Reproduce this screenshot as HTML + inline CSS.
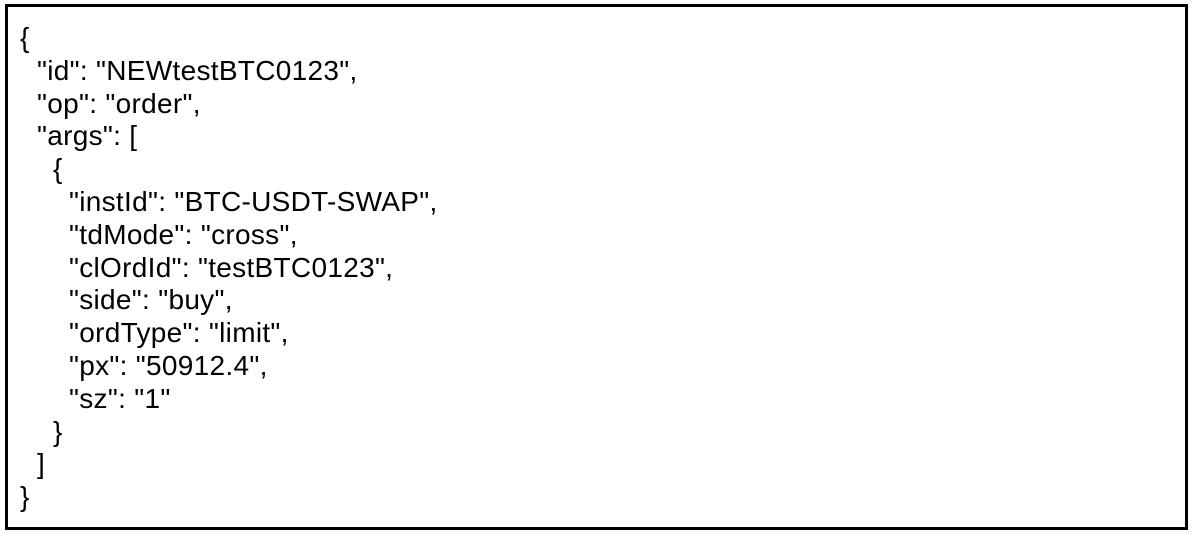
<!DOCTYPE html>
<html><head><style>
body{margin:0;width:1193px;height:536px;background:#fff;overflow:hidden}
.box{position:absolute;left:5px;top:4px;width:1183px;height:526px;border:3px solid #000;box-sizing:border-box}
.t{position:absolute;left:20px;top:22px;font-family:"Liberation Sans",sans-serif;font-size:28px;line-height:32.8px;letter-spacing:0.3px;color:#000;white-space:pre}
.l1{padding-left:17px}.l2{padding-left:33px}.l3{padding-left:49px}
</style></head><body>
<div class="box"></div>
<div class="t"><div>{</div><div class="l1">"id": "NEWtestBTC0123",</div><div class="l1">"op": "order",</div><div class="l1">"args": [</div><div class="l2">{</div><div class="l3">"instId": "BTC-USDT-SWAP",</div><div class="l3">"tdMode": "cross",</div><div class="l3">"clOrdId": "testBTC0123",</div><div class="l3">"side": "buy",</div><div class="l3">"ordType": "limit",</div><div class="l3">"px": "50912.4",</div><div class="l3">"sz": "1"</div><div class="l2">}</div><div class="l1">]</div><div>}</div></div>
</body></html>
